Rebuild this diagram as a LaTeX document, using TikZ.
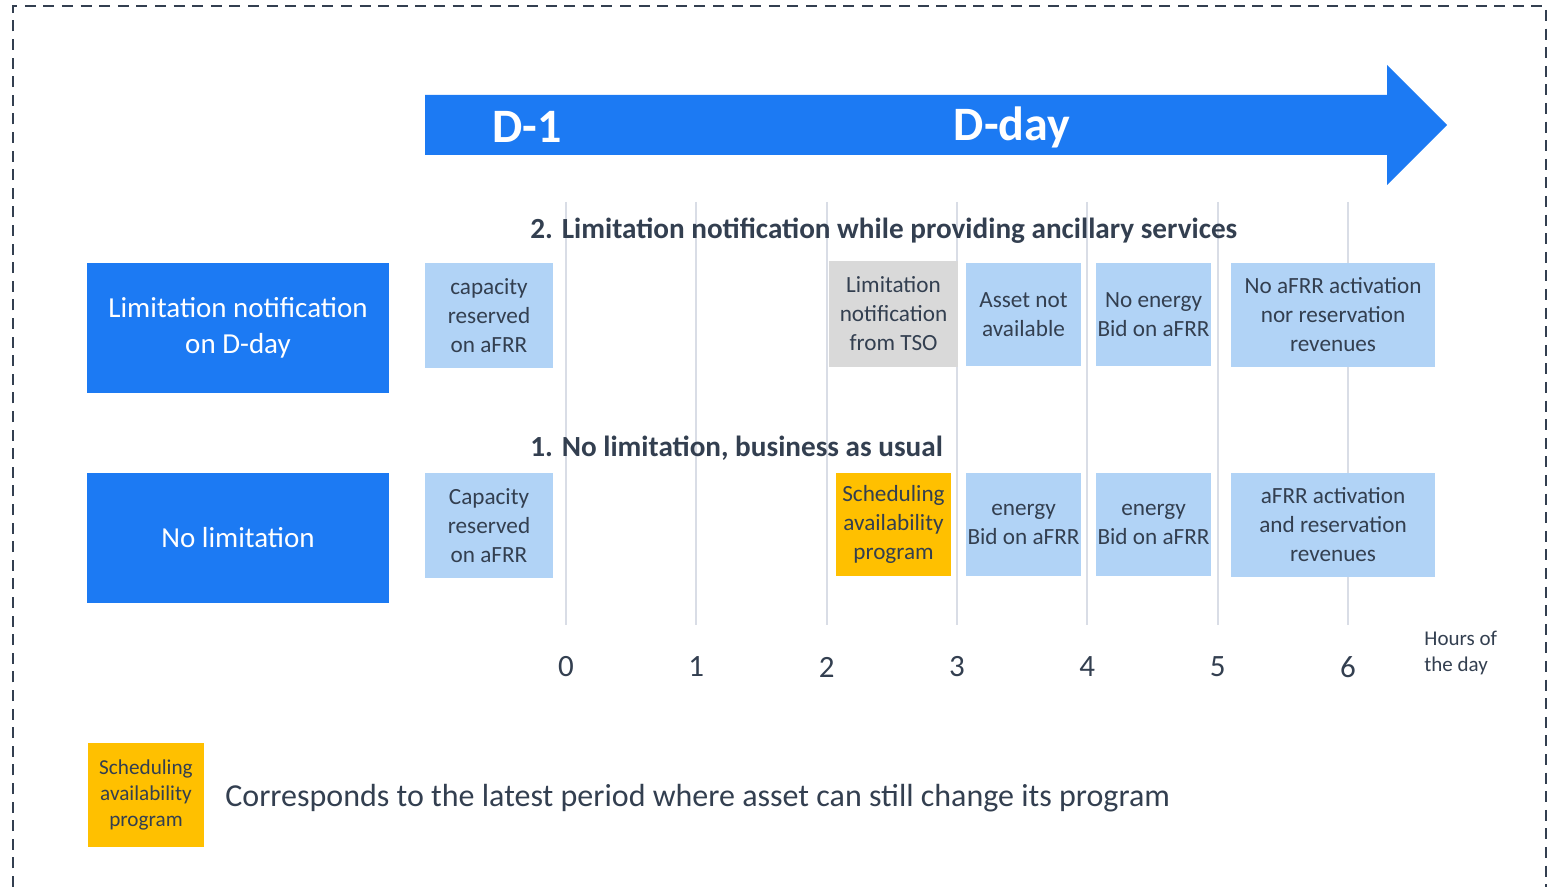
\documentclass[tikz,border=0pt]{standalone}
\usepackage{fontspec}
\setmainfont{Carlito}
\usetikzlibrary{positioning}
\definecolor{dayblue}{HTML}{1C7AF3}
\definecolor{paleblue}{HTML}{B1D3F6}
\definecolor{tsogray}{HTML}{D9D9D9}
\definecolor{progyellow}{HTML}{FFC000}
\definecolor{inkgray}{HTML}{333F50}
\definecolor{hourline}{HTML}{D9DDE6}

\begin{document}
\begin{tikzpicture}[x=0.5pt, y=-0.5pt,
        every node/.style={text=inkgray, inner sep=0pt},
        rowlabel/.style={fill=dayblue, text=white, align=center,
          minimum width=151pt, minimum height=65pt,
          font=\fontsize{14.5}{18}\selectfont},
        cell/.style={fill=paleblue, align=center,
          minimum width=57.5pt, minimum height=51.5pt,
          font=\fontsize{11.6}{14.5}\selectfont},
        firstcell/.style={cell, minimum width=64pt, minimum height=52.5pt},
        widecell/.style={cell, minimum width=102pt, minimum height=52pt},
        title/.style={anchor=west, font=\bfseries\fontsize{14.6}{17}\selectfont},
        daylabel/.style={text=white, font=\bfseries\fontsize{24}{28}\selectfont}
        ]
        \useasboundingbox (0,0) rectangle (1557,887);
        % frame
        \draw[inkgray, line width=1.3pt, dash pattern=on 5.5pt off 3.8pt]
          (13,887) -- (13,6) -- (1546,6) -- (1546,887);
        % time arrow
        \fill[dayblue] (425,95) -- (1387,95) -- (1387,65) -- (1447,125)
          -- (1387,185) -- (1387,155) -- (425,155) -- cycle;
        \node[daylabel] (d1) at (527,127) {D-1};
        \node[daylabel] (dday) at (1012,127) {D-day};
        % hours
        \foreach \h in {0,...,6} {
          \draw[hourline, line width=1pt] ({566+130.33*\h},202) -- ({566+130.33*\h},625);
          \node[font=\fontsize{15.5}{18}\selectfont] (hour\h) at ({566+130.33*\h},667) {\h};
        }
        \node[anchor=west, align=left, font=\fontsize{10.5}{13}\selectfont] (hours)
          at (1424,653) {Hours of\\the day};

        % case 2
        \node[title] (t2) at (530,231) {2. Limitation notification while providing ancillary services};
        \node[rowlabel] (lim) at (238,328) {Limitation notification\\on D-day};
        \node[firstcell] (cap1) at (489,315.5) {capacity\\reserved\\on aFRR};
        \node[cell, fill=tsogray, minimum width=64.5pt, minimum height=53pt] (tso) at (893.5,314) {Limitation\\notification\\from TSO};
        \node[cell] (asset) at (1023.5,314.5) {Asset not\\available};
        \node[cell] (nobid) at (1153.5,314.5) {No energy\\Bid on aFRR};
        \node[widecell] (norev) at (1333,315) {No aFRR activation\\nor reservation\\revenues};

        % case 1
        \node[title] (t1) at (530,448) {1. No limitation, business as usual};
        \node[rowlabel] (nolim) at (238,538) {No limitation};
        \node[firstcell] (cap2) at (489,525.5) {Capacity\\reserved\\on aFRR};
        \node[cell, fill=progyellow] (sched) at (893.5,524.5) {Scheduling\\availability\\program};
        \node[cell] (bid1) at (1023.5,524.5) {energy\\Bid on aFRR};
        \node[cell] (bid2) at (1153.5,524.5) {energy\\Bid on aFRR};
        \node[widecell] (rev) at (1333,525) {aFRR activation\\and reservation\\revenues};

        % legend
        \node[fill=progyellow, align=center, minimum width=58pt, minimum height=52pt,
          font=\fontsize{10.6}{13}\selectfont] (key) at (146,795) {Scheduling\\availability\\program};
        \node[anchor=west, font=\fontsize{16}{19}\selectfont] (keytext) at (225,798)
          {Corresponds to the latest period where asset can still change its program};
      \end{tikzpicture}
\end{document}
